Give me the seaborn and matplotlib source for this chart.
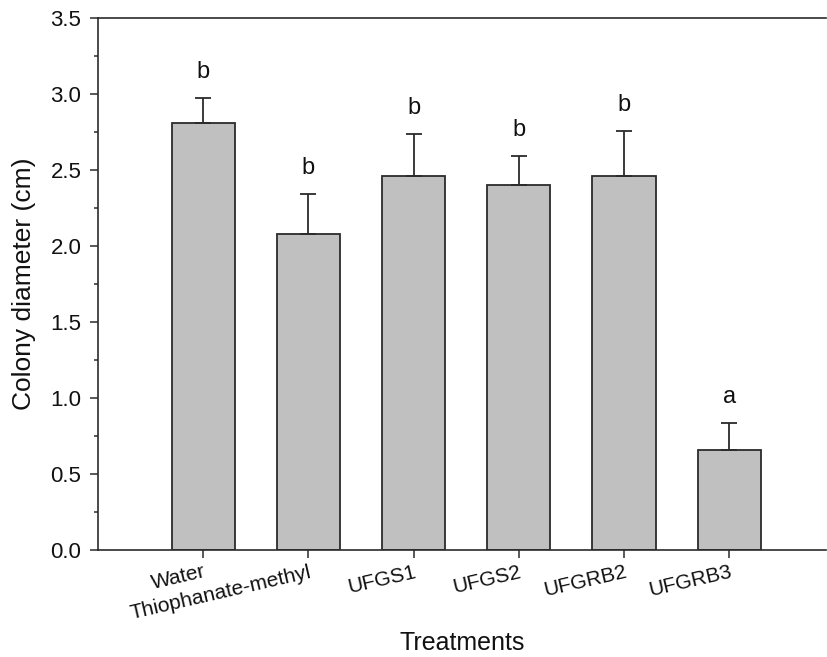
import matplotlib
matplotlib.use("Agg")
import matplotlib.pyplot as plt
import seaborn as sns
import numpy as np
import pandas as pd
from matplotlib.ticker import MultipleLocator

categories = ["Water", "Thiophanate-methyl", "UFGS1", "UFGS2", "UFGRB2", "UFGRB3"]
means = [2.81, 2.08, 2.46, 2.40, 2.46, 0.66]
errors = [0.165, 0.265, 0.28, 0.195, 0.295, 0.175]
letters = ["b", "b", "b", "b", "b", "a"]

sns.set_theme(style="ticks")
plt.rcParams['font.family'] = ['Liberation Sans', 'DejaVu Sans']

df = pd.DataFrame({"Treatments": categories, "Diameter": means})

fig = plt.figure(figsize=(8.27, 6.57), dpi=100)
ax = fig.add_axes([98/827, 1-550/657, (826-98)/827, (550-18)/657])

line_c = "#2b2b2b"
txt_c = "#111111"
sns.barplot(data=df, x="Treatments", y="Diameter", color="#c0c0c0",
            edgecolor=line_c, linewidth=1.3, width=0.6, errorbar=None,
            saturation=1, ax=ax)
for p in ax.patches:
    p.set_facecolor("#c0c0c0")

pos = np.arange(len(categories))
ax.errorbar(pos, means, yerr=[np.zeros(len(errors)), errors], fmt="none",
            ecolor=line_c, elinewidth=1.3, capsize=5.8, capthick=1.3, zorder=1)

for x, m, e, l in zip(pos, means, errors, letters):
    ax.text(x, m + e + 0.17, l, ha="center", va="center", fontsize=17, color=txt_c)

ax.set_xlim(-1.0, 5.92)
ax.set_ylim(0, 3.5)
ax.yaxis.set_major_locator(MultipleLocator(0.5))
ax.yaxis.set_minor_locator(MultipleLocator(0.25))
ax.yaxis.set_major_formatter(matplotlib.ticker.FormatStrFormatter("%.1f"))

ax.set_xticks(pos)
ax.set_xticklabels(categories, rotation=13, ha="right", rotation_mode="anchor", fontsize=15)
ax.tick_params(axis="y", which="major", length=6, width=1.1, labelsize=16, color=line_c,
               labelcolor=txt_c, pad=6)
ax.tick_params(axis="y", which="minor", length=3, width=1.1, color=line_c, left=True)
ax.tick_params(axis="x", which="major", length=6, width=1.1, color=line_c,
               labelcolor=txt_c, pad=3)

for s in ["left", "top", "bottom"]:
    ax.spines[s].set_visible(True)
    ax.spines[s].set_linewidth(1.2)
    ax.spines[s].set_color(line_c)
ax.spines["right"].set_visible(False)

ax.set_ylabel("Colony diameter (cm)", fontsize=19, labelpad=10, color=txt_c)
ax.set_xlabel("Treatments", fontsize=18, labelpad=6, color=txt_c)

fig.savefig("out.png", dpi=100)
